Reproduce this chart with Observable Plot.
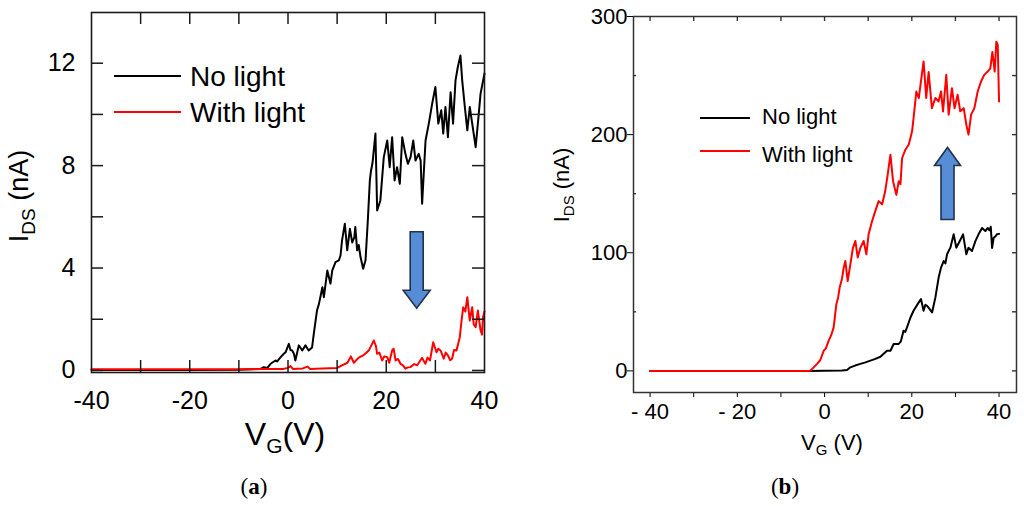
<!DOCTYPE html>
<html>
<head>
<meta charset="utf-8">
<script src="https://cdn.jsdelivr.net/npm/d3@7"></script>
<script src="https://cdn.jsdelivr.net/npm/@observablehq/plot@0.6"></script>
<style>
  body { margin: 0; background: #fff; }
  #wrap { position: relative; width: 1024px; height: 506px; overflow: hidden; background: #fff; }
  #pa, #pb { position: absolute; top: 0; }
  #pa { left: 0; }
  #pb { left: 512px; }
</style>
</head>
<body>
<div id="wrap"><div id="pa"></div><div id="pb"></div></div>
<script>
// ---------------- DATA ----------------
// Panel (a): V_G (V) vs I_DS (nA)
const aNoLight = [
  [-40,0.02],[-20,0.02],[-10,0.03],[-7,0.05],[-5.6,0.06],[-4.9,0.13],[-4.2,0.1],[-3.55,0.26],
  [-2.55,0.39],[-2.2,0.35],[-1.5,0.52],[-0.85,0.65],[-0.5,0.71],[0.17,1.04],[0.5,0.8],[0.85,0.78],
  [1.2,0.65],[1.5,0.39],[2.2,0.98],[2.9,0.78],[3.55,0.98],[4.2,0.78],[4.9,0.9],[5.25,1.43],
  [5.9,2.34],[6.3,2.6],[7.0,3.25],[7.3,2.86],[8.0,3.9],[8.65,3.39],[9.0,3.9],[9.67,4.23],
  [10.35,4.3],[10.7,4.5],[11.0,5.08],[11.57,5.73],[12.05,4.69],[12.6,5.53],[13.07,5.0],[13.5,5.2],
  [13.7,5.6],[14.08,4.69],[14.4,4.9],[14.76,4.43],[15.3,3.97],[15.78,4.3],[16.25,5.86],[16.66,7.42],
  [16.9,7.8],[17.2,8.1],[17.8,9.25],[18.15,6.25],[18.8,6.64],[19.5,8.33],[20.2,8.98],[20.7,7.94],
  [21.2,9.11],[21.7,7.42],[22.2,7.94],[22.76,7.29],[23.25,9.11],[23.9,8.46],[24.4,8.07],[24.95,8.33],
  [25.5,8.98],[25.95,8.2],[26.6,8.46],[27.0,8.2],[27.3,6.51],[28.0,8.98],[28.66,9.64],[29.35,10.42],
  [30.0,11.07],[30.6,9.64],[31.2,10.16],[31.6,9.25],[32.05,10.29],[32.55,9.11],[33.1,10.87],[33.6,9.64],
  [34.1,11.33],[34.57,11.85],[35.1,12.3],[35.46,11.33],[36.0,10.29],[36.5,9.38],[37.0,10.29],[37.5,9.64],
  [38.2,8.72],[38.65,9.64],[39.2,10.81],[39.86,11.46],[40,11.6]
];
const aWithLight = [
  [-40,0.05],[-10,0.05],[-1,0.06],[0,0.1],[0.5,0.17],[1,0.06],[3,0.08],[4,0.15],[4.5,0.06],
  [7,0.08],[10,0.1],[11,0.2],[12.1,0.3],[12.8,0.55],[13.4,0.3],[14.4,0.5],[15.4,0.6],[16.0,0.7],
  [16.5,0.8],[16.8,0.91],[17.47,1.17],[17.9,0.95],[18.15,0.65],[18.6,0.7],[19.17,0.39],[19.6,0.55],
  [20.2,0.52],[20.6,0.3],[21.2,0.78],[21.5,0.85],[21.9,0.39],[22.4,0.45],[22.9,0.26],[23.4,0.2],
  [23.9,0.07],[24.4,0.12],[24.9,0.13],[25.7,0.25],[26.3,0.2],[26.8,0.35],[27.3,0.49],[27.97,0.26],
  [28.4,0.5],[28.9,0.39],[29.56,1.1],[30.23,0.71],[30.6,0.85],[31.05,0.78],[31.7,0.46],[32.1,0.7],
  [32.55,0.59],[33.0,0.4],[33.4,0.46],[33.8,0.8],[34.3,0.78],[34.97,1.3],[35.3,1.9],[35.67,2.47],
  [36.1,2.3],[36.5,2.86],[37.0,1.95],[37.5,2.47],[37.8,1.8],[38.2,1.69],[38.65,2.34],[39.2,1.56],
  [39.5,1.4],[39.7,2.08],[40,2.3]
];
// Panel (b)
const bNoLight = [
  [-40,0],[-3.5,0],[0,0.2],[4,0.3],[5.15,0.8],[5.9,3],[7,4.5],[8.2,5.9],[9.2,7],[10.5,8.7],
  [11.5,10],[12.8,12],[14.3,17],[15.1,17],[15.84,22.8],[16.6,22.8],[17.0,22.8],[17.5,25],[18.1,34],
  [18.5,33],[18.9,36.8],[19.67,45],[20.4,50.9],[21.34,56.5],[22.1,60.8],[22.7,50.9],[23.1,56],
  [23.5,55],[24.1,52.3],[24.64,49.5],[25.4,62],[26.15,79],[26.7,87.4],[27.3,93],[27.7,91],
  [28.08,98.7],[28.84,104.3],[29.6,115.6],[30.2,104.3],[31.0,110],[31.75,115.6],[32.5,98.7],
  [33.0,104.3],[33.8,101.5],[34.6,110],[35.3,115.6],[36.1,121],[36.86,118.4],[37.4,121],
  [37.8,119],[38.1,122],[38.4,104],[38.76,112.7],[39.2,114],[39.5,115.6],[40,116]
];
const bWithLight = [
  [-40,0],[-3.5,0],[-3.25,0.25],[-2.5,3],[-1.72,5.9],[-1.0,9],[-0.2,17],[0.3,19],[0.94,25.6],
  [1.5,30],[2.09,36.8],[2.7,56.5],[3.1,62],[3.46,70.5],[4.0,78],[4.38,87.4],[4.77,93],[5.3,76],
  [5.9,90],[6.5,104],[7.06,110],[7.6,96],[8.2,104],[8.96,110],[9.58,98.7],[10.1,115.6],[10.9,126.8],
  [11.6,135],[12.4,143.7],[13.2,141],[13.9,152],[14.46,166],[15.1,183],[15.7,160.6],[16.46,149],
  [17.0,160.6],[17.4,158],[17.77,180],[18.5,187],[19.3,191.6],[19.67,197],[20.06,202.8],[20.4,214],
  [21.04,236.5],[21.6,231],[22.1,245],[22.7,262],[23.3,231],[23.86,253],[24.6,222.4],[25.4,231],
  [26.15,228],[26.7,236.5],[27.16,219.6],[27.9,250.6],[28.45,216.9],[29.2,239.3],[29.8,222.4],
  [30.5,233.8],[31.1,219.7],[31.9,222.4],[32.5,208.4],[33.0,200],[33.6,216.9],[34.34,222.4],
  [35.1,236.5],[35.87,245],[36.6,250.6],[37.4,253.4],[38.0,256],[38.47,270],[39.0,253.4],
  [39.38,278.7],[39.7,276],[40,228]
];

// Ticks
const aXLabelTicks = [-40, -20, 0, 20, 40];
const aXMinorTicks = [-30, -20, -10, 0, 10, 20, 30];
const aYLabelTicks = [0, 4, 8, 12];
const aYMinorTicks = [0, 2, 4, 6, 8, 10, 12];
const bXTicks = [-40, -30, -20, -10, 0, 10, 20, 30, 40];
const bYLabelTicks = [0, 100, 200, 300];
const bYMinorLeft = [50, 150, 250];
const bYRightTicks = [0, 50, 100, 150, 200, 250];

// Legend / labels / annotations
const seriesNames = ["No light", "With light"];
const seriesColors = ["#000000", "#ff0000"];
const arrowA = [26.3, 5.4, 2.41];   // x, tail y, tip y (panel a, pointing down)
const arrowB = [28.3, 127.7, 188.7]; // x, tail y, tip y (panel b, pointing up)
const captions = ["a", "b"];

// ---------------- LAYOUT ----------------
const W = 512, H = 506;
const FONT = "'Liberation Sans', Arial, Helvetica, sans-serif";

function blockArrow(svg, plot, spec, shaftHalf, headHalf, headLen) {
  const sx = plot.scale("x"), sy = plot.scale("y");
  const x = sx.apply(spec[0]), y0 = sy.apply(spec[1]), y1 = sy.apply(spec[2]);
  const dir = Math.sign(y1 - y0);
  const yb = y1 - dir * headLen;
  const pts = [[x - shaftHalf, y0], [x + shaftHalf, y0], [x + shaftHalf, yb], [x + headHalf, yb],
               [x, y1], [x - headHalf, yb], [x - shaftHalf, yb]];
  svg.append("path")
    .attr("d", "M" + pts.map(p => p.join(",")).join("L") + "Z")
    .attr("fill", "#568dd6").attr("stroke", "#22324f").attr("stroke-width", 1.6)
    .attr("stroke-linejoin", "miter");
}

function legend(svg, x1, x2, tx, ys, lineYs, size) {
  seriesNames.forEach((name, i) => {
    svg.append("line").attr("x1", x1).attr("x2", x2).attr("y1", lineYs[i]).attr("y2", lineYs[i])
      .attr("stroke", seriesColors[i]).attr("stroke-width", 2);
    svg.append("text").attr("x", tx).attr("y", ys[i]).attr("font-size", size)
      .attr("text-anchor", "start")
      .attr("font-family", FONT).attr("fill", "#000").text(name);
  });
}

function subLabel(svg, x, y, rotate, main, sub, rest, size, subSize, shift) {
  const t = svg.append("text").attr("font-family", FONT).attr("fill", "#000")
    .attr("text-anchor", "middle").attr("font-size", size)
    .attr("transform", `translate(${x},${y})` + (rotate ? " rotate(-90)" : ""));
  t.append("tspan").text(main);
  t.append("tspan").attr("font-size", subSize).attr("dy", shift).text(sub);
  t.append("tspan").attr("dy", -shift).text(rest);
}

function caption(svg, x, y, letter) {
  const t = svg.append("text").attr("x", x).attr("y", y).attr("text-anchor", "middle")
    .attr("font-family", "'Liberation Serif', 'Times New Roman', serif").attr("font-size", 23).attr("fill", "#000");
  t.append("tspan").text("(");
  t.append("tspan").attr("font-weight", "bold").text(letter);
  t.append("tspan").text(")");
}

// ---------------- PANEL A ----------------
const A = { ml: 91, mr: 28, mt: 12, mb: H - 372 };
const pwA = W - A.ml - A.mr, phA = H - A.mt - A.mb;
const tickA = 12;
const plotA = Plot.plot({
  width: W, height: H,
  marginLeft: A.ml, marginRight: A.mr, marginTop: A.mt, marginBottom: A.mb,
  style: { fontFamily: FONT, fontSize: "25px", color: "#000", background: "#fff", overflow: "visible" },
  x: { domain: [-40, 40], ticks: aXLabelTicks, tickSize: 0, tickPadding: 19, tickFormat: d => String(d), label: null },
  y: { domain: [-0.08, 13.98], ticks: aYLabelTicks, tickSize: 0, tickPadding: 16, tickFormat: d => String(d), label: null },
  marks: [
    Plot.line(aNoLight, { x: d => d[0], y: d => d[1], stroke: seriesColors[0], strokeWidth: 2 }),
    Plot.line(aWithLight, { x: d => d[0], y: d => d[1], stroke: seriesColors[1], strokeWidth: 2 }),
    Plot.tickX(aXMinorTicks, { x: d => d, insetTop: phA - tickA, stroke: "#1a1a1a", strokeWidth: 1.5 }),
    Plot.tickX(aXMinorTicks, { x: d => d, insetBottom: phA - tickA, stroke: "#1a1a1a", strokeWidth: 1.5 }),
    Plot.tickY(aYMinorTicks, { y: d => d, insetRight: pwA - tickA, stroke: "#1a1a1a", strokeWidth: 1.5 }),
    Plot.tickY(aYMinorTicks, { y: d => d, insetLeft: pwA - tickA, stroke: "#1a1a1a", strokeWidth: 1.5 }),
    Plot.frame({ stroke: "#1a1a1a", strokeWidth: 1.6 })
  ]
});
document.getElementById("pa").appendChild(plotA);
{
  const svg = d3.select(plotA);
  legend(svg, 114, 181, 190, [86, 122], [76, 112], 28);
  blockArrow(svg, plotA, arrowA, 6.5, 13.5, 18);
  subLabel(svg, 28, 196, true, "I", "DS", " (nA)", 27, 19, 7);
  subLabel(svg, 285, 445, false, "V", "G", "(V)", 32, 21, 8);
  caption(svg, 254, 494, captions[0]);
}

// ---------------- PANEL B ----------------
const B = { ml: 121, mr: 8, mt: 16, mb: H - 392 };
const pwB = W - B.ml - B.mr, phB = H - B.mt - B.mb;
const fmtB = d => d % 20 !== 0 ? "" : (d < 0 ? "- " + (-d) : String(d));
const plotB = Plot.plot({
  width: W, height: H,
  marginLeft: B.ml, marginRight: B.mr, marginTop: B.mt, marginBottom: B.mb,
  style: { fontFamily: FONT, fontSize: "22px", color: "#000", background: "#fff", overflow: "visible" },
  x: { domain: [-43.8, 44.0], ticks: bXTicks, tickSize: 5, tickPadding: 6, tickFormat: fmtB, label: null },
  y: { domain: [-18.3, 300], ticks: bYLabelTicks, tickSize: 6, tickPadding: 0, tickFormat: d => String(d), label: null },
  marks: [
    Plot.line(bNoLight, { x: d => d[0], y: d => d[1], stroke: seriesColors[0], strokeWidth: 2 }),
    Plot.line(bWithLight, { x: d => d[0], y: d => d[1], stroke: seriesColors[1], strokeWidth: 2 }),
    Plot.tickX(bXTicks, { x: d => d, insetBottom: phB - 5, stroke: "#333", strokeWidth: 1.4 }),
    Plot.tickY(bYMinorLeft, { y: d => d, insetRight: pwB - 3, stroke: "#333", strokeWidth: 1.4 }),
    Plot.tickY(bYRightTicks, { y: d => d, insetLeft: pwB - 4, stroke: "#333", strokeWidth: 1.4 }),
    Plot.frame({ stroke: "#333", strokeWidth: 1.5 })
  ]
});
document.getElementById("pb").appendChild(plotB);
{
  const svg = d3.select(plotB);
  legend(svg, 188, 238, 250, [124, 162], [118, 151], 22);
  blockArrow(svg, plotB, arrowB, 6.5, 13, 18);
  subLabel(svg, 57, 185, true, "I", "DS", " (nA)", 22, 15, 5);
  subLabel(svg, 320, 450, false, "V", "G", " (V)", 22, 15, 5);
  caption(svg, 273, 494, captions[1]);
}
</script>
</body>
</html>
